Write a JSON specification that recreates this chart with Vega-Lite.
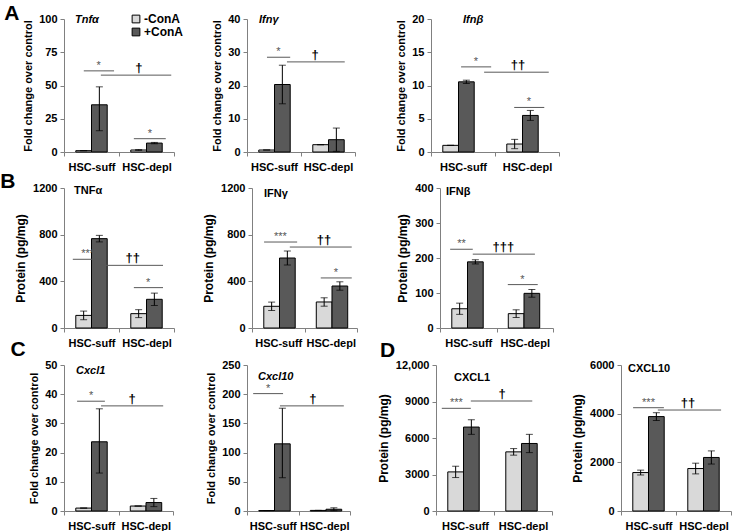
{
"$schema": "https://vega.github.io/schema/vega-lite/v6.json",
"padding": {"left": 0, "top": 3, "right": 0, "bottom": 0},
"config": {
 "view": {"stroke": null},
 "axis": {"labelFont": "Liberation Sans", "labelFontWeight": "bold", "labelFontSize": 11, "labelColor": "#000", "titleFont": "Liberation Sans", "titleFontWeight": "bold", "titleFontSize": 11, "titleColor": "#000", "domainColor": "#808080", "tickColor": "#808080", "grid": false, "tickSize": 4, "labelPadding": 3, "titlePadding": 5, "labelOverlap": false},
 "axisX": {"labelPadding": 5},
 "legend": {"symbolType": "square", "symbolSize": 60, "symbolStrokeColor": "#000", "symbolStrokeWidth": 1, "labelFont": "Liberation Sans", "labelFontWeight": "bold", "labelFontSize": 12, "labelColor": "#000", "rowPadding": 3, "padding": 0, "labelOffset": 2},
 "title": {"font": "Liberation Sans", "fontWeight": "bold", "fontSize": 11, "color": "#000", "anchor": "start", "frame": "group", "offset": 0, "baseline": "middle"}
},
"datasets": {
 "bars": [
  {"p":"A1","g":"HSC-suff","t":"-ConA","m":1,"lo":1,"hi":1},
  {"p":"A1","g":"HSC-suff","t":"+ConA","m":35.5,"lo":16,"hi":49},
  {"p":"A1","g":"HSC-depl","t":"-ConA","m":1.5,"lo":1.2,"hi":1.8},
  {"p":"A1","g":"HSC-depl","t":"+ConA","m":6.7,"lo":6.2,"hi":7.2},
  {"p":"A2","g":"HSC-suff","t":"-ConA","m":0.6,"lo":0.6,"hi":0.6},
  {"p":"A2","g":"HSC-suff","t":"+ConA","m":20.3,"lo":14.5,"hi":26.1},
  {"p":"A2","g":"HSC-depl","t":"-ConA","m":2.2,"lo":2.2,"hi":2.2},
  {"p":"A2","g":"HSC-depl","t":"+ConA","m":3.7,"lo":0.2,"hi":7.2},
  {"p":"A3","g":"HSC-suff","t":"-ConA","m":1,"lo":1,"hi":1},
  {"p":"A3","g":"HSC-suff","t":"+ConA","m":10.55,"lo":10.3,"hi":10.8},
  {"p":"A3","g":"HSC-depl","t":"-ConA","m":1.2,"lo":0.5,"hi":1.9},
  {"p":"A3","g":"HSC-depl","t":"+ConA","m":5.5,"lo":4.75,"hi":6.25},
  {"p":"B1","g":"HSC-suff","t":"-ConA","m":108,"lo":71,"hi":145},
  {"p":"B1","g":"HSC-suff","t":"+ConA","m":766,"lo":738,"hi":794},
  {"p":"B1","g":"HSC-depl","t":"-ConA","m":123,"lo":89,"hi":157},
  {"p":"B1","g":"HSC-depl","t":"+ConA","m":246,"lo":193,"hi":299},
  {"p":"B2","g":"HSC-suff","t":"-ConA","m":186,"lo":150,"hi":222},
  {"p":"B2","g":"HSC-suff","t":"+ConA","m":600,"lo":540,"hi":660},
  {"p":"B2","g":"HSC-depl","t":"-ConA","m":223,"lo":187,"hi":259},
  {"p":"B2","g":"HSC-depl","t":"+ConA","m":360,"lo":324,"hi":396},
  {"p":"B3","g":"HSC-suff","t":"-ConA","m":55,"lo":39,"hi":71},
  {"p":"B3","g":"HSC-suff","t":"+ConA","m":189,"lo":183,"hi":195},
  {"p":"B3","g":"HSC-depl","t":"-ConA","m":41,"lo":30,"hi":52},
  {"p":"B3","g":"HSC-depl","t":"+ConA","m":99,"lo":88,"hi":110},
  {"p":"C1","g":"HSC-suff","t":"-ConA","m":1,"lo":1,"hi":1},
  {"p":"C1","g":"HSC-suff","t":"+ConA","m":23.7,"lo":13,"hi":35},
  {"p":"C1","g":"HSC-depl","t":"-ConA","m":1.7,"lo":1.7,"hi":1.7},
  {"p":"C1","g":"HSC-depl","t":"+ConA","m":2.9,"lo":1.5,"hi":4.3},
  {"p":"C2","g":"HSC-suff","t":"-ConA","m":0.8,"lo":0.8,"hi":0.8},
  {"p":"C2","g":"HSC-suff","t":"+ConA","m":115,"lo":57,"hi":176},
  {"p":"C2","g":"HSC-depl","t":"-ConA","m":1,"lo":1,"hi":1},
  {"p":"C2","g":"HSC-depl","t":"+ConA","m":3,"lo":0.5,"hi":5.5},
  {"p":"D1","g":"HSC-suff","t":"-ConA","m":3214,"lo":2750,"hi":3680},
  {"p":"D1","g":"HSC-suff","t":"+ConA","m":6900,"lo":6300,"hi":7500},
  {"p":"D1","g":"HSC-depl","t":"-ConA","m":4860,"lo":4590,"hi":5130},
  {"p":"D1","g":"HSC-depl","t":"+ConA","m":5550,"lo":4800,"hi":6300},
  {"p":"D2","g":"HSC-suff","t":"-ConA","m":1580,"lo":1480,"hi":1680},
  {"p":"D2","g":"HSC-suff","t":"+ConA","m":3880,"lo":3720,"hi":4040},
  {"p":"D2","g":"HSC-depl","t":"-ConA","m":1745,"lo":1525,"hi":1965},
  {"p":"D2","g":"HSC-depl","t":"+ConA","m":2200,"lo":1930,"hi":2470}
 ],
 "ann": [
  {"p":"A1","x1":0.36,"x2":0.91,"xt":0.63,"y":61,"s":"*"},
  {"p":"A1","x1":0.67,"x2":1.95,"xt":1.36,"y":57.8,"s":"†"},
  {"p":"A1","x1":1.27,"x2":1.85,"xt":1.56,"y":10,"s":"*"},
  {"p":"A2","x1":0.37,"x2":0.8,"xt":0.58,"y":28.5,"s":"*"},
  {"p":"A2","x1":0.74,"x2":1.81,"xt":1.26,"y":27.1,"s":"†"},
  {"p":"A3","x1":0.47,"x2":0.94,"xt":0.7,"y":12.8,"s":"*"},
  {"p":"A3","x1":0.83,"x2":1.84,"xt":1.36,"y":12.0,"s":"††"},
  {"p":"A3","x1":1.3,"x2":1.77,"xt":1.53,"y":6.7,"s":"*"},
  {"p":"B1","x1":0.16,"x2":0.71,"xt":0.43,"y":589,"s":"***"},
  {"p":"B1","x1":0.67,"x2":1.8,"xt":1.25,"y":537,"s":"††"},
  {"p":"B1","x1":1.27,"x2":1.8,"xt":1.53,"y":346,"s":"*"},
  {"p":"B2","x1":0.23,"x2":0.86,"xt":0.54,"y":737,"s":"***"},
  {"p":"B2","x1":0.72,"x2":1.9,"xt":1.37,"y":694,"s":"††"},
  {"p":"B2","x1":1.31,"x2":1.9,"xt":1.6,"y":429,"s":"*"},
  {"p":"B3","x1":0.18,"x2":0.58,"xt":0.38,"y":225,"s":"**"},
  {"p":"B3","x1":0.58,"x2":1.68,"xt":1.12,"y":211,"s":"†††"},
  {"p":"B3","x1":1.2,"x2":1.73,"xt":1.46,"y":124,"s":"*"},
  {"p":"C1","x1":0.24,"x2":0.75,"xt":0.5,"y":37.6,"s":"*"},
  {"p":"C1","x1":0.68,"x2":1.82,"xt":1.25,"y":36.0,"s":"†"},
  {"p":"C2","x1":0.12,"x2":0.7,"xt":0.41,"y":201,"s":"*"},
  {"p":"C2","x1":0.64,"x2":1.88,"xt":1.28,"y":180,"s":"†"},
  {"p":"D1","x1":0.1,"x2":0.6,"xt":0.35,"y":8440,"s":"***"},
  {"p":"D1","x1":0.6,"x2":1.66,"xt":1.14,"y":9040,"s":"†"},
  {"p":"D2","x1":0.22,"x2":0.78,"xt":0.5,"y":4245,"s":"***"},
  {"p":"D2","x1":0.67,"x2":1.82,"xt":1.22,"y":4150,"s":"††"}
 ]
},
"spacing": -9,
"vconcat": [
 {"spacing": -1,
  "vconcat": [
 {"title": {"text": "A", "orient": "left", "anchor": "end", "frame": "bounds", "angle": 0, "align": "right", "baseline": "top", "fontSize": 21, "offset": -12, "dy": -10},
  "spacing": 39,
  "hconcat": [
  {"spacing": 36,
   "hconcat": [
   {"width": 110, "height": 133, "title": {"text": "Tnfα", "fontStyle": "italic", "dx": 11, "offset": -12},
    "layer": [
     {"data": {"name": "bars"}, "transform": [{"filter": "datum.p == 'A1'"}],
      "encoding": {"x": {"field": "g", "type": "nominal", "sort": ["HSC-suff","HSC-depl"], "scale": {"paddingInner": 0, "paddingOuter": 0}, "axis": {"title": null, "labelAngle": 0, "tickBand": "extent"}},
                   "xOffset": {"field": "t", "type": "nominal", "sort": ["-ConA","+ConA"], "scale": {"paddingInner": 0, "paddingOuter": 0.75}}},
      "layer": [
       {"mark": {"type": "bar", "stroke": "#000", "strokeWidth": 1}, "encoding": {"y": {"field": "m", "type": "quantitative", "title": "Fold change over control", "scale": {"domain": [0,100], "nice": false}, "axis": {"values": [0,25,50,75,100], "tickCount": 20, "format": "d", "labelOverlap": false}}, "fill": {"field": "t", "type": "nominal", "title": null, "scale": {"domain": ["-ConA","+ConA"], "range": ["#d9d9d9","#595959"]}, "legend": {"orient": "none", "legendX": 66, "legendY": -6}}}},
       {"mark": {"type": "rule", "color": "#000"}, "encoding": {"y": {"field": "lo", "type": "quantitative", "title": "Fold change over control"}, "y2": {"field": "hi"}}},
       {"mark": {"type": "tick", "color": "#000", "size": 7, "thickness": 1}, "encoding": {"y": {"field": "lo", "type": "quantitative", "title": "Fold change over control"}}},
       {"mark": {"type": "tick", "color": "#000", "size": 7, "thickness": 1}, "encoding": {"y": {"field": "hi", "type": "quantitative", "title": "Fold change over control"}}}
      ]},
     {"data": {"name": "ann"}, "transform": [{"filter": "datum.p == 'A1'"}],
      "layer": [
       {"mark": {"type": "rule", "color": "#595959"}, "encoding": {"x": {"field": "x1", "type": "quantitative", "scale": {"domain": [0,2], "nice": false, "zero": false}, "axis": null}, "x2": {"field": "x2"}, "y": {"field": "y", "type": "quantitative", "title": "Fold change over control"}}},
       {"transform": [{"filter": "indexof(datum.s, '*') >= 0"}], "mark": {"type": "text", "baseline": "bottom", "font": "Liberation Sans", "fontSize": 11, "color": "#555"}, "encoding": {"x": {"field": "xt", "type": "quantitative", "scale": {"domain": [0,2], "nice": false, "zero": false}, "axis": null}, "y": {"field": "y", "type": "quantitative", "title": "Fold change over control"}, "text": {"field": "s"}}},
       {"transform": [{"filter": "indexof(datum.s, '*') < 0"}], "mark": {"type": "text", "baseline": "bottom", "font": "Liberation Sans", "fontSize": 13, "fontWeight": "bold", "color": "#000"}, "encoding": {"x": {"field": "xt", "type": "quantitative", "scale": {"domain": [0,2], "nice": false, "zero": false}, "axis": null}, "y": {"field": "y", "type": "quantitative", "title": "Fold change over control"}, "text": {"field": "s"}}}
      ]}
    ],
    "resolve": {"scale": {"x": "independent"}}},
   {"width": 108, "height": 133, "title": {"text": "Ifnγ", "fontStyle": "italic", "dx": 12, "offset": -12},
    "layer": [
     {"data": {"name": "bars"}, "transform": [{"filter": "datum.p == 'A2'"}],
      "encoding": {"x": {"field": "g", "type": "nominal", "sort": ["HSC-suff","HSC-depl"], "scale": {"paddingInner": 0, "paddingOuter": 0}, "axis": {"title": null, "labelAngle": 0, "tickBand": "extent"}},
                   "xOffset": {"field": "t", "type": "nominal", "sort": ["-ConA","+ConA"], "scale": {"paddingInner": 0, "paddingOuter": 0.75}}},
      "layer": [
       {"mark": {"type": "bar", "stroke": "#000", "strokeWidth": 1}, "encoding": {"y": {"field": "m", "type": "quantitative", "title": "Fold change over control", "scale": {"domain": [0,40], "nice": false}, "axis": {"values": [0,10,20,30,40], "tickCount": 20, "format": "d", "labelOverlap": false}}, "fill": {"field": "t", "type": "nominal", "title": null, "scale": {"domain": ["-ConA","+ConA"], "range": ["#d9d9d9","#595959"]}, "legend": {"orient": "none", "legendX": 68, "legendY": -6}}}},
       {"mark": {"type": "rule", "color": "#000"}, "encoding": {"y": {"field": "lo", "type": "quantitative", "title": "Fold change over control"}, "y2": {"field": "hi"}}},
       {"mark": {"type": "tick", "color": "#000", "size": 7, "thickness": 1}, "encoding": {"y": {"field": "lo", "type": "quantitative", "title": "Fold change over control"}}},
       {"mark": {"type": "tick", "color": "#000", "size": 7, "thickness": 1}, "encoding": {"y": {"field": "hi", "type": "quantitative", "title": "Fold change over control"}}}
      ]},
     {"data": {"name": "ann"}, "transform": [{"filter": "datum.p == 'A2'"}],
      "layer": [
       {"mark": {"type": "rule", "color": "#595959"}, "encoding": {"x": {"field": "x1", "type": "quantitative", "scale": {"domain": [0,2], "nice": false, "zero": false}, "axis": null}, "x2": {"field": "x2"}, "y": {"field": "y", "type": "quantitative", "title": "Fold change over control"}}},
       {"transform": [{"filter": "indexof(datum.s, '*') >= 0"}], "mark": {"type": "text", "baseline": "bottom", "font": "Liberation Sans", "fontSize": 11, "color": "#555"}, "encoding": {"x": {"field": "xt", "type": "quantitative", "scale": {"domain": [0,2], "nice": false, "zero": false}, "axis": null}, "y": {"field": "y", "type": "quantitative", "title": "Fold change over control"}, "text": {"field": "s"}}},
       {"transform": [{"filter": "indexof(datum.s, '*') < 0"}], "mark": {"type": "text", "baseline": "bottom", "font": "Liberation Sans", "fontSize": 13, "fontWeight": "bold", "color": "#000"}, "encoding": {"x": {"field": "xt", "type": "quantitative", "scale": {"domain": [0,2], "nice": false, "zero": false}, "axis": null}, "y": {"field": "y", "type": "quantitative", "title": "Fold change over control"}, "text": {"field": "s"}}}
      ]}
    ],
    "resolve": {"scale": {"x": "independent"}}}
   ]},
   {"width": 128, "height": 133, "title": {"text": "Ifnβ", "fontStyle": "italic", "dx": 32, "offset": -12},
    "layer": [
     {"data": {"name": "bars"}, "transform": [{"filter": "datum.p == 'A3'"}],
      "encoding": {"x": {"field": "g", "type": "nominal", "sort": ["HSC-suff","HSC-depl"], "scale": {"paddingInner": 0, "paddingOuter": 0}, "axis": {"title": null, "labelAngle": 0, "tickBand": "extent"}},
                   "xOffset": {"field": "t", "type": "nominal", "sort": ["-ConA","+ConA"], "scale": {"paddingInner": 0, "paddingOuter": 0.75}}},
      "layer": [
       {"mark": {"type": "bar", "stroke": "#000", "strokeWidth": 1}, "encoding": {"y": {"field": "m", "type": "quantitative", "title": "Fold change over control", "scale": {"domain": [0,20], "nice": false}, "axis": {"values": [0,5,10,15,20], "tickCount": 20, "format": "d", "labelOverlap": false}}, "fill": {"field": "t", "type": "nominal", "title": null, "scale": {"domain": ["-ConA","+ConA"], "range": ["#d9d9d9","#595959"]}, "legend": {"orient": "none", "legendX": 76, "legendY": -6}}}},
       {"mark": {"type": "rule", "color": "#000"}, "encoding": {"y": {"field": "lo", "type": "quantitative", "title": "Fold change over control"}, "y2": {"field": "hi"}}},
       {"mark": {"type": "tick", "color": "#000", "size": 7, "thickness": 1}, "encoding": {"y": {"field": "lo", "type": "quantitative", "title": "Fold change over control"}}},
       {"mark": {"type": "tick", "color": "#000", "size": 7, "thickness": 1}, "encoding": {"y": {"field": "hi", "type": "quantitative", "title": "Fold change over control"}}}
      ]},
     {"data": {"name": "ann"}, "transform": [{"filter": "datum.p == 'A3'"}],
      "layer": [
       {"mark": {"type": "rule", "color": "#595959"}, "encoding": {"x": {"field": "x1", "type": "quantitative", "scale": {"domain": [0,2], "nice": false, "zero": false}, "axis": null}, "x2": {"field": "x2"}, "y": {"field": "y", "type": "quantitative", "title": "Fold change over control"}}},
       {"transform": [{"filter": "indexof(datum.s, '*') >= 0"}], "mark": {"type": "text", "baseline": "bottom", "font": "Liberation Sans", "fontSize": 11, "color": "#555"}, "encoding": {"x": {"field": "xt", "type": "quantitative", "scale": {"domain": [0,2], "nice": false, "zero": false}, "axis": null}, "y": {"field": "y", "type": "quantitative", "title": "Fold change over control"}, "text": {"field": "s"}}},
       {"transform": [{"filter": "indexof(datum.s, '*') < 0"}], "mark": {"type": "text", "baseline": "bottom", "font": "Liberation Sans", "fontSize": 13, "fontWeight": "bold", "color": "#000"}, "encoding": {"x": {"field": "xt", "type": "quantitative", "scale": {"domain": [0,2], "nice": false, "zero": false}, "axis": null}, "y": {"field": "y", "type": "quantitative", "title": "Fold change over control"}, "text": {"field": "s"}}}
      ]}
    ],
    "resolve": {"scale": {"x": "independent"}}}
  ]},
 {"title": {"text": "B", "orient": "left", "anchor": "end", "frame": "bounds", "angle": 0, "align": "right", "baseline": "top", "fontSize": 21, "offset": -16, "dy": -11},
  "spacing": 38,
  "hconcat": [
  {"spacing": 27,
   "hconcat": [
   {"width": 110, "height": 140, "title": {"text": "TNFα", "dx": 10, "offset": -14},
    "layer": [
     {"data": {"name": "bars"}, "transform": [{"filter": "datum.p == 'B1'"}],
      "encoding": {"x": {"field": "g", "type": "nominal", "sort": ["HSC-suff","HSC-depl"], "scale": {"paddingInner": 0, "paddingOuter": 0}, "axis": {"title": null, "labelAngle": 0, "tickBand": "extent"}},
                   "xOffset": {"field": "t", "type": "nominal", "sort": ["-ConA","+ConA"], "scale": {"paddingInner": 0, "paddingOuter": 0.75}}},
      "layer": [
       {"mark": {"type": "bar", "stroke": "#000", "strokeWidth": 1}, "encoding": {"y": {"field": "m", "type": "quantitative", "title": "Protein (pg/mg)", "scale": {"domain": [0,1200], "nice": false}, "axis": {"values": [0,400,800,1200], "tickCount": 20, "format": "d", "labelOverlap": false, "titleFontSize": 12}}, "fill": {"field": "t", "type": "nominal", "title": null, "scale": {"domain": ["-ConA","+ConA"], "range": ["#d9d9d9","#595959"]}, "legend": {"orient": "none", "legendX": 63, "legendY": -5}}}},
       {"mark": {"type": "rule", "color": "#000"}, "encoding": {"y": {"field": "lo", "type": "quantitative", "title": "Protein (pg/mg)"}, "y2": {"field": "hi"}}},
       {"mark": {"type": "tick", "color": "#000", "size": 7, "thickness": 1}, "encoding": {"y": {"field": "lo", "type": "quantitative", "title": "Protein (pg/mg)"}}},
       {"mark": {"type": "tick", "color": "#000", "size": 7, "thickness": 1}, "encoding": {"y": {"field": "hi", "type": "quantitative", "title": "Protein (pg/mg)"}}}
      ]},
     {"data": {"name": "ann"}, "transform": [{"filter": "datum.p == 'B1'"}],
      "layer": [
       {"mark": {"type": "rule", "color": "#595959"}, "encoding": {"x": {"field": "x1", "type": "quantitative", "scale": {"domain": [0,2], "nice": false, "zero": false}, "axis": null}, "x2": {"field": "x2"}, "y": {"field": "y", "type": "quantitative", "title": "Protein (pg/mg)"}}},
       {"transform": [{"filter": "indexof(datum.s, '*') >= 0"}], "mark": {"type": "text", "baseline": "bottom", "font": "Liberation Sans", "fontSize": 11, "color": "#555"}, "encoding": {"x": {"field": "xt", "type": "quantitative", "scale": {"domain": [0,2], "nice": false, "zero": false}, "axis": null}, "y": {"field": "y", "type": "quantitative", "title": "Protein (pg/mg)"}, "text": {"field": "s"}}},
       {"transform": [{"filter": "indexof(datum.s, '*') < 0"}], "mark": {"type": "text", "baseline": "bottom", "font": "Liberation Sans", "fontSize": 13, "fontWeight": "bold", "color": "#000"}, "encoding": {"x": {"field": "xt", "type": "quantitative", "scale": {"domain": [0,2], "nice": false, "zero": false}, "axis": null}, "y": {"field": "y", "type": "quantitative", "title": "Protein (pg/mg)"}, "text": {"field": "s"}}}
      ]}
    ],
    "resolve": {"scale": {"x": "independent"}}},
   {"width": 105, "height": 140, "title": {"text": "IFNγ", "dx": 12, "offset": -17},
    "layer": [
     {"data": {"name": "bars"}, "transform": [{"filter": "datum.p == 'B2'"}],
      "encoding": {"x": {"field": "g", "type": "nominal", "sort": ["HSC-suff","HSC-depl"], "scale": {"paddingInner": 0, "paddingOuter": 0}, "axis": {"title": null, "labelAngle": 0, "tickBand": "extent"}},
                   "xOffset": {"field": "t", "type": "nominal", "sort": ["-ConA","+ConA"], "scale": {"paddingInner": 0, "paddingOuter": 0.75}}},
      "layer": [
       {"mark": {"type": "bar", "stroke": "#000", "strokeWidth": 1}, "encoding": {"y": {"field": "m", "type": "quantitative", "title": "Protein (pg/mg)", "scale": {"domain": [0,1200], "nice": false}, "axis": {"values": [0,400,800,1200], "tickCount": 20, "format": "d", "labelOverlap": false, "titleFontSize": 12}}, "fill": {"field": "t", "type": "nominal", "title": null, "scale": {"domain": ["-ConA","+ConA"], "range": ["#d9d9d9","#595959"]}, "legend": {"orient": "none", "legendX": 61, "legendY": -5}}}},
       {"mark": {"type": "rule", "color": "#000"}, "encoding": {"y": {"field": "lo", "type": "quantitative", "title": "Protein (pg/mg)"}, "y2": {"field": "hi"}}},
       {"mark": {"type": "tick", "color": "#000", "size": 7, "thickness": 1}, "encoding": {"y": {"field": "lo", "type": "quantitative", "title": "Protein (pg/mg)"}}},
       {"mark": {"type": "tick", "color": "#000", "size": 7, "thickness": 1}, "encoding": {"y": {"field": "hi", "type": "quantitative", "title": "Protein (pg/mg)"}}}
      ]},
     {"data": {"name": "ann"}, "transform": [{"filter": "datum.p == 'B2'"}],
      "layer": [
       {"mark": {"type": "rule", "color": "#595959"}, "encoding": {"x": {"field": "x1", "type": "quantitative", "scale": {"domain": [0,2], "nice": false, "zero": false}, "axis": null}, "x2": {"field": "x2"}, "y": {"field": "y", "type": "quantitative", "title": "Protein (pg/mg)"}}},
       {"transform": [{"filter": "indexof(datum.s, '*') >= 0"}], "mark": {"type": "text", "baseline": "bottom", "font": "Liberation Sans", "fontSize": 11, "color": "#555"}, "encoding": {"x": {"field": "xt", "type": "quantitative", "scale": {"domain": [0,2], "nice": false, "zero": false}, "axis": null}, "y": {"field": "y", "type": "quantitative", "title": "Protein (pg/mg)"}, "text": {"field": "s"}}},
       {"transform": [{"filter": "indexof(datum.s, '*') < 0"}], "mark": {"type": "text", "baseline": "bottom", "font": "Liberation Sans", "fontSize": 13, "fontWeight": "bold", "color": "#000"}, "encoding": {"x": {"field": "xt", "type": "quantitative", "scale": {"domain": [0,2], "nice": false, "zero": false}, "axis": null}, "y": {"field": "y", "type": "quantitative", "title": "Protein (pg/mg)"}, "text": {"field": "s"}}}
      ]}
    ],
    "resolve": {"scale": {"x": "independent"}}}
   ]},
   {"width": 113, "height": 140, "title": {"text": "IFNβ", "dx": 6, "offset": -15},
    "layer": [
     {"data": {"name": "bars"}, "transform": [{"filter": "datum.p == 'B3'"}],
      "encoding": {"x": {"field": "g", "type": "nominal", "sort": ["HSC-suff","HSC-depl"], "scale": {"paddingInner": 0, "paddingOuter": 0}, "axis": {"title": null, "labelAngle": 0, "tickBand": "extent"}},
                   "xOffset": {"field": "t", "type": "nominal", "sort": ["-ConA","+ConA"], "scale": {"paddingInner": 0, "paddingOuter": 0.75}}},
      "layer": [
       {"mark": {"type": "bar", "stroke": "#000", "strokeWidth": 1}, "encoding": {"y": {"field": "m", "type": "quantitative", "title": "Protein (pg/mg)", "scale": {"domain": [0,400], "nice": false}, "axis": {"values": [0,100,200,300,400], "tickCount": 20, "format": "d", "labelOverlap": false, "titleFontSize": 12}}, "fill": {"field": "t", "type": "nominal", "title": null, "scale": {"domain": ["-ConA","+ConA"], "range": ["#d9d9d9","#595959"]}, "legend": {"orient": "none", "legendX": 61, "legendY": -4}}}},
       {"mark": {"type": "rule", "color": "#000"}, "encoding": {"y": {"field": "lo", "type": "quantitative", "title": "Protein (pg/mg)"}, "y2": {"field": "hi"}}},
       {"mark": {"type": "tick", "color": "#000", "size": 7, "thickness": 1}, "encoding": {"y": {"field": "lo", "type": "quantitative", "title": "Protein (pg/mg)"}}},
       {"mark": {"type": "tick", "color": "#000", "size": 7, "thickness": 1}, "encoding": {"y": {"field": "hi", "type": "quantitative", "title": "Protein (pg/mg)"}}}
      ]},
     {"data": {"name": "ann"}, "transform": [{"filter": "datum.p == 'B3'"}],
      "layer": [
       {"mark": {"type": "rule", "color": "#595959"}, "encoding": {"x": {"field": "x1", "type": "quantitative", "scale": {"domain": [0,2], "nice": false, "zero": false}, "axis": null}, "x2": {"field": "x2"}, "y": {"field": "y", "type": "quantitative", "title": "Protein (pg/mg)"}}},
       {"transform": [{"filter": "indexof(datum.s, '*') >= 0"}], "mark": {"type": "text", "baseline": "bottom", "font": "Liberation Sans", "fontSize": 11, "color": "#555"}, "encoding": {"x": {"field": "xt", "type": "quantitative", "scale": {"domain": [0,2], "nice": false, "zero": false}, "axis": null}, "y": {"field": "y", "type": "quantitative", "title": "Protein (pg/mg)"}, "text": {"field": "s"}}},
       {"transform": [{"filter": "indexof(datum.s, '*') < 0"}], "mark": {"type": "text", "baseline": "bottom", "font": "Liberation Sans", "fontSize": 13, "fontWeight": "bold", "color": "#000"}, "encoding": {"x": {"field": "xt", "type": "quantitative", "scale": {"domain": [0,2], "nice": false, "zero": false}, "axis": null}, "y": {"field": "y", "type": "quantitative", "title": "Protein (pg/mg)"}, "text": {"field": "s"}}}
      ]}
    ],
    "resolve": {"scale": {"x": "independent"}}}
  ]}
 ]},
 {"spacing": 26,
  "hconcat": [
   {"title": {"text": "C", "orient": "left", "anchor": "end", "frame": "bounds", "angle": 0, "align": "right", "baseline": "top", "fontSize": 21, "offset": -12, "dy": -20},
    "spacing": 31,
    "hconcat": [
     {"width": 109, "height": 146, "title": {"text": "Cxcl1", "fontStyle": "italic", "dx": 12, "offset": -17},
      "layer": [
       {"data": {"name": "bars"}, "transform": [{"filter": "datum.p == 'C1'"}],
        "encoding": {"x": {"field": "g", "type": "nominal", "sort": ["HSC-suff","HSC-depl"], "scale": {"paddingInner": 0, "paddingOuter": 0}, "axis": {"title": null, "labelAngle": 0, "tickBand": "extent"}},
                     "xOffset": {"field": "t", "type": "nominal", "sort": ["-ConA","+ConA"], "scale": {"paddingInner": 0, "paddingOuter": 0.75}}},
        "layer": [
         {"mark": {"type": "bar", "stroke": "#000", "strokeWidth": 1}, "encoding": {"y": {"field": "m", "type": "quantitative", "title": "Fold change over control", "scale": {"domain": [0,50], "nice": false}, "axis": {"values": [0,10,20,30,40,50], "tickCount": 20, "format": "d", "labelOverlap": false}}, "fill": {"field": "t", "type": "nominal", "title": null, "scale": {"domain": ["-ConA","+ConA"], "range": ["#d9d9d9","#595959"]}, "legend": {"orient": "none", "legendX": 61, "legendY": 1, "rowPadding": 1}}}},
         {"mark": {"type": "rule", "color": "#000"}, "encoding": {"y": {"field": "lo", "type": "quantitative", "title": "Fold change over control"}, "y2": {"field": "hi"}}},
         {"mark": {"type": "tick", "color": "#000", "size": 7, "thickness": 1}, "encoding": {"y": {"field": "lo", "type": "quantitative", "title": "Fold change over control"}}},
         {"mark": {"type": "tick", "color": "#000", "size": 7, "thickness": 1}, "encoding": {"y": {"field": "hi", "type": "quantitative", "title": "Fold change over control"}}}
        ]},
       {"data": {"name": "ann"}, "transform": [{"filter": "datum.p == 'C1'"}],
        "layer": [
         {"mark": {"type": "rule", "color": "#595959"}, "encoding": {"x": {"field": "x1", "type": "quantitative", "scale": {"domain": [0,2], "nice": false, "zero": false}, "axis": null}, "x2": {"field": "x2"}, "y": {"field": "y", "type": "quantitative", "title": "Fold change over control"}}},
         {"transform": [{"filter": "indexof(datum.s, '*') >= 0"}], "mark": {"type": "text", "baseline": "bottom", "font": "Liberation Sans", "fontSize": 11, "color": "#555"}, "encoding": {"x": {"field": "xt", "type": "quantitative", "scale": {"domain": [0,2], "nice": false, "zero": false}, "axis": null}, "y": {"field": "y", "type": "quantitative", "title": "Fold change over control"}, "text": {"field": "s"}}},
         {"transform": [{"filter": "indexof(datum.s, '*') < 0"}], "mark": {"type": "text", "baseline": "bottom", "font": "Liberation Sans", "fontSize": 13, "fontWeight": "bold", "color": "#000"}, "encoding": {"x": {"field": "xt", "type": "quantitative", "scale": {"domain": [0,2], "nice": false, "zero": false}, "axis": null}, "y": {"field": "y", "type": "quantitative", "title": "Fold change over control"}, "text": {"field": "s"}}}
        ]}
      ],
      "resolve": {"scale": {"x": "independent"}}},
     {"width": 103, "height": 146, "title": {"text": "Cxcl10", "fontStyle": "italic", "dx": 11, "offset": -23},
      "layer": [
       {"data": {"name": "bars"}, "transform": [{"filter": "datum.p == 'C2'"}],
        "encoding": {"x": {"field": "g", "type": "nominal", "sort": ["HSC-suff","HSC-depl"], "scale": {"paddingInner": 0, "paddingOuter": 0}, "axis": {"title": null, "labelAngle": 0, "tickBand": "extent"}},
                     "xOffset": {"field": "t", "type": "nominal", "sort": ["-ConA","+ConA"], "scale": {"paddingInner": 0, "paddingOuter": 0.75}}},
        "layer": [
         {"mark": {"type": "bar", "stroke": "#000", "strokeWidth": 1}, "encoding": {"y": {"field": "m", "type": "quantitative", "title": "Fold change over control", "scale": {"domain": [0,250], "nice": false}, "axis": {"values": [0,50,100,150,200,250], "tickCount": 20, "format": "d", "labelOverlap": false}}, "fill": {"field": "t", "type": "nominal", "title": null, "scale": {"domain": ["-ConA","+ConA"], "range": ["#d9d9d9","#595959"]}, "legend": {"orient": "none", "legendX": 69, "legendY": 2, "rowPadding": 6}}}},
         {"mark": {"type": "rule", "color": "#000"}, "encoding": {"y": {"field": "lo", "type": "quantitative", "title": "Fold change over control"}, "y2": {"field": "hi"}}},
         {"mark": {"type": "tick", "color": "#000", "size": 7, "thickness": 1}, "encoding": {"y": {"field": "lo", "type": "quantitative", "title": "Fold change over control"}}},
         {"mark": {"type": "tick", "color": "#000", "size": 7, "thickness": 1}, "encoding": {"y": {"field": "hi", "type": "quantitative", "title": "Fold change over control"}}}
        ]},
       {"data": {"name": "ann"}, "transform": [{"filter": "datum.p == 'C2'"}],
        "layer": [
         {"mark": {"type": "rule", "color": "#595959"}, "encoding": {"x": {"field": "x1", "type": "quantitative", "scale": {"domain": [0,2], "nice": false, "zero": false}, "axis": null}, "x2": {"field": "x2"}, "y": {"field": "y", "type": "quantitative", "title": "Fold change over control"}}},
         {"transform": [{"filter": "indexof(datum.s, '*') >= 0"}], "mark": {"type": "text", "baseline": "bottom", "font": "Liberation Sans", "fontSize": 11, "color": "#555"}, "encoding": {"x": {"field": "xt", "type": "quantitative", "scale": {"domain": [0,2], "nice": false, "zero": false}, "axis": null}, "y": {"field": "y", "type": "quantitative", "title": "Fold change over control"}, "text": {"field": "s"}}},
         {"transform": [{"filter": "indexof(datum.s, '*') < 0"}], "mark": {"type": "text", "baseline": "bottom", "font": "Liberation Sans", "fontSize": 13, "fontWeight": "bold", "color": "#000"}, "encoding": {"x": {"field": "xt", "type": "quantitative", "scale": {"domain": [0,2], "nice": false, "zero": false}, "axis": null}, "y": {"field": "y", "type": "quantitative", "title": "Fold change over control"}, "text": {"field": "s"}}}
        ]}
      ],
      "resolve": {"scale": {"x": "independent"}}}
    ]},
   {"title": {"text": "D", "orient": "left", "anchor": "end", "frame": "bounds", "angle": 0, "align": "right", "baseline": "top", "fontSize": 21, "offset": -33, "dy": -19},
    "spacing": 18,
    "hconcat": [
     {"width": 116, "height": 146, "title": {"text": "CXCL1", "dx": 18, "offset": -24},
      "layer": [
       {"data": {"name": "bars"}, "transform": [{"filter": "datum.p == 'D1'"}],
        "encoding": {"x": {"field": "g", "type": "nominal", "sort": ["HSC-suff","HSC-depl"], "scale": {"paddingInner": 0, "paddingOuter": 0}, "axis": {"title": null, "labelAngle": 0, "tickBand": "extent"}},
                     "xOffset": {"field": "t", "type": "nominal", "sort": ["-ConA","+ConA"], "scale": {"paddingInner": 0, "paddingOuter": 0.75}}},
        "layer": [
         {"mark": {"type": "bar", "stroke": "#000", "strokeWidth": 1}, "encoding": {"y": {"field": "m", "type": "quantitative", "title": "Protein (pg/mg)", "scale": {"domain": [0,12000], "nice": false}, "axis": {"values": [0,3000,6000,9000,12000], "tickCount": 20, "labelOverlap": false, "titleFontSize": 12, "labelExpr": "datum.value >= 10000 ? format(datum.value, ',') : format(datum.value, 'd')"}}, "fill": {"field": "t", "type": "nominal", "title": null, "scale": {"domain": ["-ConA","+ConA"], "range": ["#d9d9d9","#595959"]}, "legend": {"orient": "none", "legendX": 66, "legendY": -6, "rowPadding": 1}}}},
         {"mark": {"type": "rule", "color": "#000"}, "encoding": {"y": {"field": "lo", "type": "quantitative", "title": "Protein (pg/mg)"}, "y2": {"field": "hi"}}},
         {"mark": {"type": "tick", "color": "#000", "size": 7, "thickness": 1}, "encoding": {"y": {"field": "lo", "type": "quantitative", "title": "Protein (pg/mg)"}}},
         {"mark": {"type": "tick", "color": "#000", "size": 7, "thickness": 1}, "encoding": {"y": {"field": "hi", "type": "quantitative", "title": "Protein (pg/mg)"}}}
        ]},
       {"data": {"name": "ann"}, "transform": [{"filter": "datum.p == 'D1'"}],
        "layer": [
         {"mark": {"type": "rule", "color": "#595959"}, "encoding": {"x": {"field": "x1", "type": "quantitative", "scale": {"domain": [0,2], "nice": false, "zero": false}, "axis": null}, "x2": {"field": "x2"}, "y": {"field": "y", "type": "quantitative", "title": "Protein (pg/mg)"}}},
         {"transform": [{"filter": "indexof(datum.s, '*') >= 0"}], "mark": {"type": "text", "baseline": "bottom", "font": "Liberation Sans", "fontSize": 11, "color": "#555"}, "encoding": {"x": {"field": "xt", "type": "quantitative", "scale": {"domain": [0,2], "nice": false, "zero": false}, "axis": null}, "y": {"field": "y", "type": "quantitative", "title": "Protein (pg/mg)"}, "text": {"field": "s"}}},
         {"transform": [{"filter": "indexof(datum.s, '*') < 0"}], "mark": {"type": "text", "baseline": "bottom", "font": "Liberation Sans", "fontSize": 13, "fontWeight": "bold", "color": "#000"}, "encoding": {"x": {"field": "xt", "type": "quantitative", "scale": {"domain": [0,2], "nice": false, "zero": false}, "axis": null}, "y": {"field": "y", "type": "quantitative", "title": "Protein (pg/mg)"}, "text": {"field": "s"}}}
        ]}
      ],
      "resolve": {"scale": {"x": "independent"}}},
     {"width": 110, "height": 146, "title": {"text": "CXCL10", "dx": 7, "offset": -15},
      "layer": [
       {"data": {"name": "bars"}, "transform": [{"filter": "datum.p == 'D2'"}],
        "encoding": {"x": {"field": "g", "type": "nominal", "sort": ["HSC-suff","HSC-depl"], "scale": {"paddingInner": 0, "paddingOuter": 0}, "axis": {"title": null, "labelAngle": 0, "tickBand": "extent"}},
                     "xOffset": {"field": "t", "type": "nominal", "sort": ["-ConA","+ConA"], "scale": {"paddingInner": 0, "paddingOuter": 0.75}}},
        "layer": [
         {"mark": {"type": "bar", "stroke": "#000", "strokeWidth": 1}, "encoding": {"y": {"field": "m", "type": "quantitative", "title": "Protein (pg/mg)", "scale": {"domain": [0,6000], "nice": false}, "axis": {"values": [0,2000,4000,6000], "tickCount": 20, "format": "d", "labelOverlap": false, "titleFontSize": 12}}, "fill": {"field": "t", "type": "nominal", "title": null, "scale": {"domain": ["-ConA","+ConA"], "range": ["#d9d9d9","#595959"]}, "legend": {"orient": "none", "legendX": 70, "legendY": -1, "rowPadding": 1}}}},
         {"mark": {"type": "rule", "color": "#000"}, "encoding": {"y": {"field": "lo", "type": "quantitative", "title": "Protein (pg/mg)"}, "y2": {"field": "hi"}}},
         {"mark": {"type": "tick", "color": "#000", "size": 7, "thickness": 1}, "encoding": {"y": {"field": "lo", "type": "quantitative", "title": "Protein (pg/mg)"}}},
         {"mark": {"type": "tick", "color": "#000", "size": 7, "thickness": 1}, "encoding": {"y": {"field": "hi", "type": "quantitative", "title": "Protein (pg/mg)"}}}
        ]},
       {"data": {"name": "ann"}, "transform": [{"filter": "datum.p == 'D2'"}],
        "layer": [
         {"mark": {"type": "rule", "color": "#595959"}, "encoding": {"x": {"field": "x1", "type": "quantitative", "scale": {"domain": [0,2], "nice": false, "zero": false}, "axis": null}, "x2": {"field": "x2"}, "y": {"field": "y", "type": "quantitative", "title": "Protein (pg/mg)"}}},
         {"transform": [{"filter": "indexof(datum.s, '*') >= 0"}], "mark": {"type": "text", "baseline": "bottom", "font": "Liberation Sans", "fontSize": 11, "color": "#555"}, "encoding": {"x": {"field": "xt", "type": "quantitative", "scale": {"domain": [0,2], "nice": false, "zero": false}, "axis": null}, "y": {"field": "y", "type": "quantitative", "title": "Protein (pg/mg)"}, "text": {"field": "s"}}},
         {"transform": [{"filter": "indexof(datum.s, '*') < 0"}], "mark": {"type": "text", "baseline": "bottom", "font": "Liberation Sans", "fontSize": 13, "fontWeight": "bold", "color": "#000"}, "encoding": {"x": {"field": "xt", "type": "quantitative", "scale": {"domain": [0,2], "nice": false, "zero": false}, "axis": null}, "y": {"field": "y", "type": "quantitative", "title": "Protein (pg/mg)"}, "text": {"field": "s"}}}
        ]}
      ],
      "resolve": {"scale": {"x": "independent"}}}
    ]}
  ]}
]
}
